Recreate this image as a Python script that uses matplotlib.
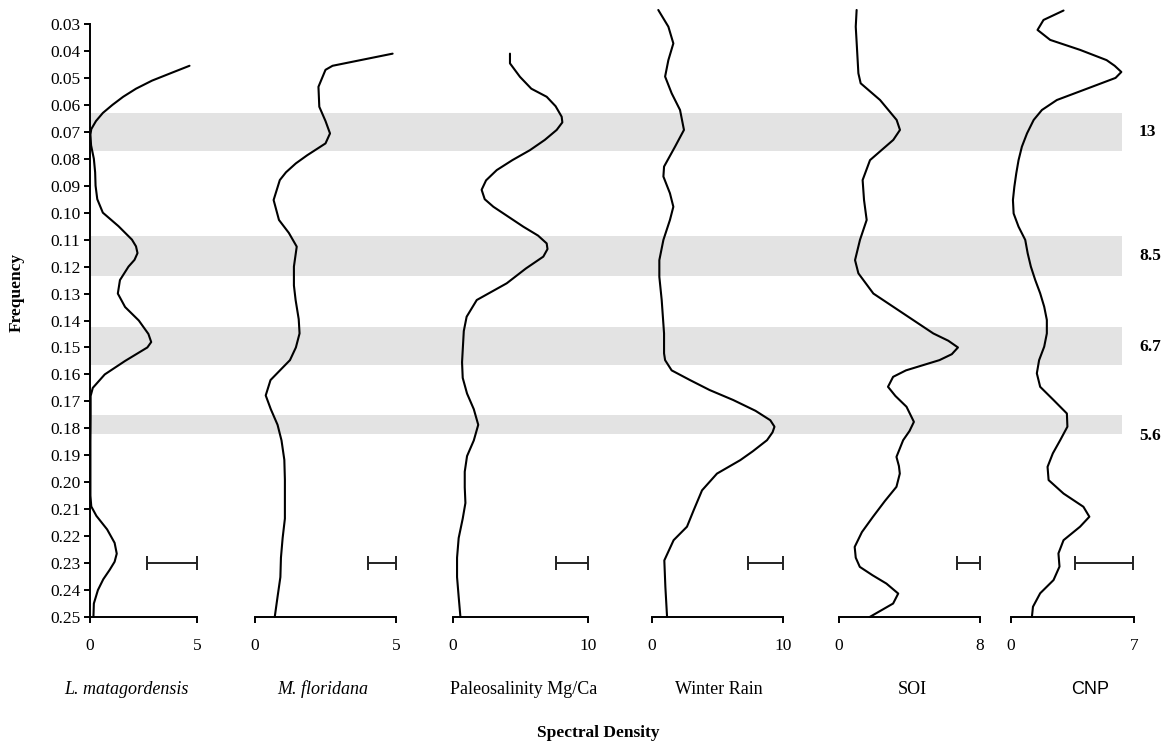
import matplotlib.pyplot as plt
from matplotlib.transforms import blended_transform_factory

plt.rcParams['font.family'] = 'Liberation Serif'
plt.rcParams['font.size'] = 12

# frequency (y) and spectral density (x)
lm_freq = [0.0455, 0.048, 0.051, 0.054, 0.057, 0.060, 0.063, 0.066, 0.069, 0.071,
           0.075, 0.080, 0.085, 0.090, 0.095, 0.100, 0.105, 0.110, 0.1125, 0.115,
           0.1175, 0.120, 0.125, 0.130, 0.135, 0.140, 0.145, 0.148, 0.150, 0.155,
           0.160, 0.165, 0.168, 0.175, 0.185, 0.195, 0.205, 0.209, 0.2125, 0.2175,
           0.2225, 0.2265, 0.2295, 0.2325, 0.236, 0.240, 0.245, 0.250]
lm_dens = [4.65, 3.85, 2.9, 2.15, 1.55, 1.05, 0.6, 0.28, 0.06, 0.02,
           0.05, 0.18, 0.24, 0.26, 0.34, 0.6, 1.33, 1.96, 2.15, 2.22,
           2.08, 1.8, 1.4, 1.3, 1.64, 2.28, 2.73, 2.86, 2.68, 1.64,
           0.69, 0.13, 0.03, 0.03, 0.02, 0.02, 0.02, 0.06, 0.3, 0.8,
           1.15, 1.25, 1.15, 0.92, 0.62, 0.37, 0.18, 0.16]

mf_freq = [0.041, 0.0455, 0.047, 0.0533, 0.0607, 0.066, 0.0706, 0.0743, 0.0787, 0.0817,
           0.085, 0.0879, 0.0953, 0.1027, 0.1075, 0.1126, 0.120, 0.127, 0.1324, 0.1395,
           0.1448, 0.150, 0.1547, 0.1621, 0.1678, 0.1729, 0.1787, 0.1845, 0.1917, 0.199,
           0.2062, 0.2135, 0.2207, 0.228, 0.2352, 0.2425, 0.250]
mf_dens = [4.88, 2.75, 2.5, 2.25, 2.28, 2.5, 2.66, 2.5, 1.85, 1.45,
           1.1, 0.88, 0.66, 0.85, 1.2, 1.48, 1.38, 1.38, 1.44, 1.55,
           1.58, 1.45, 1.24, 0.55, 0.38, 0.56, 0.8, 0.94, 1.04, 1.06,
           1.06, 1.06, 0.98, 0.92, 0.9, 0.8, 0.7]

ps_freq = [0.041, 0.0446, 0.0496, 0.054, 0.057, 0.0605, 0.0644, 0.0665, 0.0693, 0.073,
           0.0768, 0.0805, 0.0842, 0.088, 0.0915, 0.095, 0.0978, 0.1015, 0.1052, 0.1085,
           0.1114, 0.1135, 0.1163, 0.1207, 0.1262, 0.1324, 0.1386, 0.1439, 0.151, 0.1555,
           0.1613, 0.1671, 0.1729, 0.1787, 0.1845, 0.1903, 0.1961, 0.2019, 0.2077, 0.2135,
           0.2207, 0.228, 0.2352, 0.2425, 0.250]
ps_dens = [4.22, 4.22, 4.96, 5.8, 6.94, 7.6, 8.05, 8.1, 7.68, 6.8,
           5.7, 4.4, 3.24, 2.45, 2.12, 2.35, 2.99, 4.1, 5.21, 6.3,
           6.94, 7.0, 6.69, 5.4, 3.98, 1.76, 1.01, 0.8, 0.72, 0.67,
           0.72, 1.04, 1.54, 1.87, 1.54, 1.04, 0.87, 0.87, 0.92, 0.72,
           0.42, 0.3, 0.3, 0.42, 0.55]

wr_freq = [0.0248, 0.031, 0.0372, 0.0434, 0.0495, 0.0557, 0.0619, 0.0693, 0.0755, 0.0829,
           0.0866, 0.0928, 0.0978, 0.1027, 0.1101, 0.1176, 0.1238, 0.1324, 0.1448, 0.1522,
           0.1547, 0.1585, 0.1621, 0.1658, 0.1695, 0.1735, 0.177, 0.1794, 0.1815, 0.1844,
           0.1885, 0.1918, 0.1968, 0.203, 0.2104, 0.2165, 0.2215, 0.229, 0.2388, 0.250]
wr_dens = [0.48, 1.25, 1.63, 1.25, 1.0, 1.5, 2.14, 2.44, 1.76, 0.92,
           0.87, 1.37, 1.63, 1.37, 0.87, 0.56, 0.56, 0.74, 0.92, 0.92,
           1.0, 1.5, 2.9, 4.4, 6.2, 7.9, 9.03, 9.35, 9.2, 8.78,
           7.7, 6.74, 4.96, 3.82, 3.18, 2.67, 1.65, 0.94, 1.02, 1.15]

soi_freq = [0.0248, 0.031, 0.0367, 0.0425, 0.0483, 0.052, 0.0582, 0.0656, 0.0693, 0.073,
            0.0805, 0.0879, 0.0953, 0.1027, 0.1101, 0.1176, 0.1225, 0.130, 0.1374, 0.1448,
            0.1475, 0.150, 0.1525, 0.1547, 0.1585, 0.1609, 0.1646, 0.168, 0.172, 0.1776,
            0.181, 0.1844, 0.1906, 0.194, 0.1968, 0.2017, 0.207, 0.2128, 0.2185, 0.224,
            0.228, 0.2314, 0.2345, 0.2376, 0.2413, 0.245, 0.250]
soi_dens = [1.0, 0.95, 1.0, 1.05, 1.1, 1.23, 2.33, 3.27, 3.46, 3.08,
            1.76, 1.34, 1.42, 1.57, 1.19, 0.91, 1.1, 1.95, 3.65, 5.35,
            6.2, 6.75, 6.4, 5.7, 3.8, 3.07, 2.78, 3.2, 3.83, 4.25,
            4.0, 3.64, 3.26, 3.4, 3.45, 3.26, 2.6, 1.93, 1.3, 0.89,
            0.95, 1.18, 1.9, 2.69, 3.36, 3.07, 1.74]

cnp_freq = [0.025, 0.0285, 0.0322, 0.0359, 0.0396, 0.0434, 0.0455, 0.0478, 0.050, 0.0545,
            0.0582, 0.0619, 0.0656, 0.0706, 0.0755, 0.0805, 0.0854, 0.0904, 0.0953, 0.1003,
            0.1052, 0.1101, 0.1151, 0.120, 0.125, 0.1299, 0.1349, 0.1398, 0.1448, 0.1497,
            0.1547, 0.1596, 0.1646, 0.1695, 0.1745, 0.1794, 0.1844, 0.1893, 0.1943, 0.1992,
            0.2042, 0.2091, 0.2128, 0.2165, 0.2215, 0.2264, 0.2313, 0.2363, 0.2412, 0.2462,
            0.250]
cnp_dens = [2.99, 1.85, 1.51, 2.23, 3.93, 5.44, 5.9, 6.28, 5.95, 4.12,
            2.61, 1.76, 1.29, 0.91, 0.62, 0.43, 0.3, 0.19, 0.11, 0.15,
            0.43, 0.81, 0.95, 1.13, 1.38, 1.66, 1.89, 2.04, 2.04, 1.89,
            1.6, 1.47, 1.66, 2.42, 3.18, 3.21, 2.8, 2.38, 2.08, 2.14,
            2.99, 4.12, 4.46, 3.93, 2.99, 2.7, 2.76, 2.42, 1.66, 1.25,
            1.19]

names = ['L. matagordensis', 'M. floridana', 'Paleosalinity Mg/Ca',
         'Winter Rain', 'SOI', 'CNP']
x_max = [5, 5, 10, 10, 8, 7]
ci_low = [2.65, 4.0, 7.6, 7.35, 6.7, 3.65]
ci_high = [5.0, 5.0, 10.0, 10.0, 8.0, 6.95]
ci_freq = 0.23

band_low = [0.063, 0.1087, 0.1425, 0.1751]
band_high = [0.0771, 0.1235, 0.1565, 0.1821]
band_label_freq = [0.070, 0.116, 0.150, 0.183]
band_period = ['13', '8.5', '6.7', '5.6']

freq_ticks = [round(0.03 + 0.01 * k, 2) for k in range(23)]

freqs = [lm_freq, mf_freq, ps_freq, wr_freq, soi_freq, cnp_freq]
dens = [lm_dens, mf_dens, ps_dens, wr_dens, soi_dens, cnp_dens]

# layout in pixels
W, H = 1176, 743
lefts = [90, 255, 453, 652, 839, 1011]
rights = [197, 396, 588, 783, 980, 1134]
title_x = [126, 323, 524, 719, 912, 1090]
title_style = ['italic', 'italic', 'normal', 'normal', 'normal', 'normal']
title_family = ['Liberation Serif'] * 5 + ['Liberation Sans']


def px_box(x0, x1, y0=24, y1=617):
    return [x0 / W, 1 - y1 / H, (x1 - x0) / W, (y1 - y0) / H]


fig = plt.figure(figsize=(W / 100, H / 100), dpi=100)

# shaded bands behind all panels
bg = fig.add_axes(px_box(90, 1122))
bg.set_xlim(0, 1)
bg.set_ylim(0.25, 0.03)
bg.axis('off')
for lo, hi in zip(band_low, band_high):
    bg.axhspan(lo, hi, color='#e3e3e3', lw=0)

trans = blended_transform_factory(fig.transFigure, bg.transData)
for f, lab in zip(band_label_freq, band_period):
    fig.text(1139 / W, f, lab, transform=trans, ha='left', va='center',
             fontweight='bold', fontsize=12.5)

for i in range(6):
    ax = fig.add_axes(px_box(lefts[i], rights[i]))
    ax.patch.set_alpha(0)
    ax.plot(dens[i], freqs[i], color='black', lw=1.5, clip_on=False,
            solid_joinstyle='round', solid_capstyle='round')
    ax.errorbar(ci_low[i], ci_freq, xerr=[[0], [ci_high[i] - ci_low[i]]],
                fmt='none', ecolor='#222222', elinewidth=1.4, capsize=5,
                capthick=1.4)
    ax.set_xlim(0, x_max[i])
    ax.set_ylim(0.25, 0.03)
    ax.set_xticks([0, x_max[i]])
    ax.set_xticklabels(['0', str(x_max[i])])
    ax.tick_params(axis='x', direction='out', length=4, width=1.4, pad=11,
                   labelsize=12.5)
    for s in ['top', 'right']:
        ax.spines[s].set_visible(False)
    ax.spines['bottom'].set_linewidth(1.4)
    if i == 0:
        ax.spines['left'].set_linewidth(1.4)
        ax.set_yticks(freq_ticks)
        ax.set_yticklabels(['%.2f' % t for t in freq_ticks])
        ax.tick_params(axis='y', direction='out', length=4, width=1.4, pad=3,
                       labelsize=12.5)
    else:
        ax.spines['left'].set_visible(False)
        ax.set_yticks([])
    fig.text(title_x[i] / W, 1 - 689 / H, names[i], ha='center', va='center',
             style=title_style[i], family=title_family[i], fontsize=13)

fig.text(17 / W, 1 - 292 / H, 'Frequency', rotation=90, ha='center',
         va='center', fontweight='bold', fontsize=12.5)
fig.text(598 / W, 1 - 733 / H, 'Spectral Density', ha='center', va='center',
         fontweight='bold', fontsize=12.5)

fig.savefig('out.png', dpi=100)
